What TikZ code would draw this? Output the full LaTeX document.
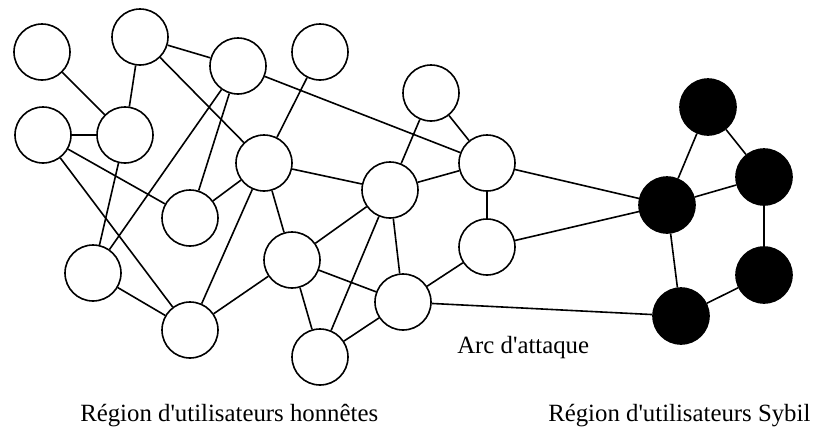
\documentclass[tikz,border=0pt]{standalone}
\usepackage{fontspec}
\setmainfont{Liberation Serif}
\usepackage{tikz}

\begin{document}
\begin{tikzpicture}[x=0.75pt,y=0.75pt,yscale=-1,xscale=1,
  honest/.style={draw, circle, line width=1.2pt, fill=white, minimum size=42pt, inner sep=0pt},
  sybil/.style={draw, circle, line width=1.2pt, fill=black, minimum size=42pt, inner sep=0pt},
  link/.style={line width=1.2pt},
  label/.style={inner sep=0pt, font=\fontsize{18.6}{22}\selectfont}]
%set diagram left start at 0, and has height of 429
\useasboundingbox (0,0) rectangle (822,429);

% Honest nodes
\node [honest] (h1) at (42,52) {};
\node [honest] (h2) at (140,37) {};
\node [honest] (h3) at (238,66) {};
\node [honest] (h4) at (320,52) {};
\node [honest] (h5) at (43,135) {};
\node [honest] (h6) at (125,135) {};
\node [honest] (h7) at (264,163) {};
\node [honest] (h8) at (190,218) {};
\node [honest] (h9) at (431,93) {};
\node [honest] (h10) at (487,163) {};
\node [honest] (h11) at (390,190) {};
\node [honest] (h12) at (487,247) {};
\node [honest] (h13) at (292,260) {};
\node [honest] (h14) at (93,273) {};
\node [honest] (h15) at (190,330) {};
\node [honest] (h16) at (403,302) {};
\node [honest] (h17) at (320,357) {};
% Sybil nodes
\node [sybil] (s1) at (708,107) {};
\node [sybil] (s2) at (764,177) {};
\node [sybil] (s3) at (667,205) {};
\node [sybil] (s4) at (764,275) {};
\node [sybil] (s5) at (681,316) {};

%Straight Lines (honest region)
\draw [link] (h1) -- (h6);
\draw [link] (h2) -- (h6);
\draw [link] (h2) -- (h3);
\draw [link] (h2) -- (h7);
\draw [link] (h5) -- (h6);
\draw [link] (h5) -- (h8);
\draw [link] (h5) -- (h15);
\draw [link] (h6) -- (h14);
\draw [link] (h3) -- (h14);
\draw [link] (h3) -- (h8);
\draw [link] (h3) -- (h10);
\draw [link] (h4) -- (h7);
\draw [link] (h7) -- (h8);
\draw [link] (h7) -- (h11);
\draw [link] (h7) -- (h13);
\draw [link] (h7) -- (h15);
\draw [link] (h14) -- (h15);
\draw [link] (h13) -- (h15);
\draw [link] (h13) -- (h11);
\draw [link] (h13) -- (h16);
\draw [link] (h13) -- (h17);
\draw [link] (h11) -- (h17);
\draw [link] (h11) -- (h16);
\draw [link] (h16) -- (h17);
\draw [link] (h16) -- (h12);
\draw [link] (h11) -- (h10);
\draw [link] (h11) -- (h9);
\draw [link] (h9) -- (h10);
\draw [link] (h10) -- (h12);
%Straight Lines (attack edges)
\draw [link] (h10) -- (s3);
\draw [link] (h12) -- (s3);
\draw [link] (h16) -- (s5);
%Straight Lines (sybil region)
\draw [link] (s1) -- (s3);
\draw [link] (s1) -- (s2);
\draw [link] (s3) -- (s2);
\draw [link] (s2) -- (s4);
\draw [link] (s4) -- (s5);
\draw [link] (s3) -- (s5);

% Text Node
\node [label, anchor=base west] (arc) at (457,353) {Arc d\textquotesingle attaque};
% Text Node
\node [label, anchor=base west] (honnetes) at (80,421) {Région d\textquotesingle utilisateurs honnêtes};
% Text Node
\node [label, anchor=base west] (sybilreg) at (548,421) {Région d\textquotesingle utilisateurs Sybil};

\end{tikzpicture}
\end{document}
